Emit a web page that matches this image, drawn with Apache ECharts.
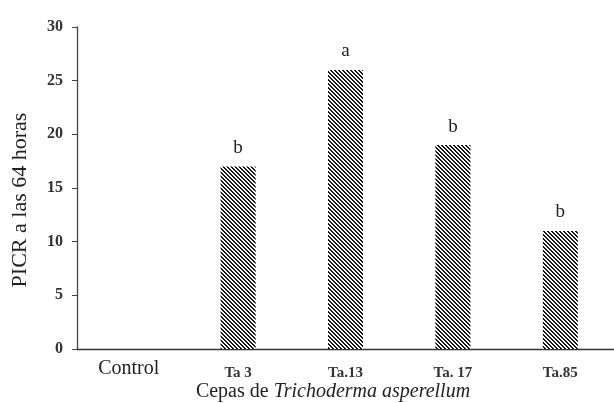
<!DOCTYPE html>
<html>
<head>
<meta charset="utf-8">
<script src="https://cdn.jsdelivr.net/npm/echarts@6/dist/echarts.min.js"></script>
<style>
html,body{margin:0;padding:0;background:#fff;}
#chart{width:614px;height:403px;}
</style>
</head>
<body>
<div id="chart"></div>
<script>
var categories = ['Control', 'Ta 3', 'Ta.13', 'Ta. 17', 'Ta.85'];
var values = [0, 17, 26, 19, 11];
var letters = ['', 'b', 'a', 'b', 'b'];
var yMin = 0, yMax = 30, yStep = 5;
var yTitle = 'PICR a las 64 horas';
var xTitlePlain = 'Cepas de ';
var xTitleItalic = 'Trichoderma asperellum';

function hatch() {
  var s = 4;
  var c = document.createElement('canvas');
  c.width = s; c.height = s;
  var ctx = c.getContext('2d');
  var img = ctx.createImageData(s, s);
  for (var y = 0; y < s; y++) {
    for (var x = 0; x < s; x++) {
      var k = ((x - y) % s + s) % s;
      var i = (y * s + x) * 4;
      var dark = (k === 0 || k === 1);
      var v = dark ? 20 : 255;
      img.data[i] = v; img.data[i+1] = v; img.data[i+2] = v; img.data[i+3] = 255;
    }
  }
  ctx.putImageData(img, 0, 0);
  return c;
}

var chart = echarts.init(document.getElementById('chart'), null, {renderer: 'canvas'});
var serif = '"Liberation Serif", "Times New Roman", serif';
chart.setOption({
  animation: false,
  backgroundColor: '#fff',
  grid: {left: 77, right: 0, top: 27, bottom: 54, outerBoundsMode: 'none', containLabel: false},
  xAxis: {
    type: 'category',
    data: categories,
    axisLine: {show: true, lineStyle: {color: '#333', width: 1.3}},
    axisTick: {show: false},
    axisLabel: {
      margin: 10,
      formatter: function (v) {
        return v === 'Control' ? '{c|' + v + '}' : '{t|' + v + '}';
      },
      rich: {
        c: {fontFamily: serif, fontSize: 20, color: '#222', padding: [0, 4, 0, 0]},
        t: {fontFamily: serif, fontSize: 15, fontWeight: 'bold', color: '#333', padding: [7, 0, 0, 0]}
      }
    },
    name: '{p|' + xTitlePlain + '}{i|' + xTitleItalic + '}',
    nameLocation: 'middle',
    nameGap: 33,
    nameMoveOverlap: false,
    nameTextStyle: {
      padding: [0, 25, 0, 0],
      lineHeight: 20,
      rich: {
        p: {fontFamily: serif, fontSize: 20, color: '#222', lineHeight: 20},
        i: {fontFamily: serif, fontSize: 20, fontStyle: 'italic', color: '#222', lineHeight: 20}
      }
    }
  },
  yAxis: {
    type: 'value',
    min: yMin, max: yMax, interval: yStep,
    axisLine: {show: true, lineStyle: {color: '#444', width: 1.3}},
    axisTick: {show: true, length: 5, lineStyle: {color: '#444'}},
    splitLine: {show: false},
    axisLabel: {margin: 14, fontFamily: serif, fontSize: 16, fontWeight: 'bold', color: '#333'},
    name: yTitle,
    nameLocation: 'middle',
    nameGap: 46,
    nameMoveOverlap: false,
    nameTextStyle: {fontFamily: serif, fontSize: 22, color: '#222', padding: [0, 0, 0, -24]}
  },
  series: [{
    type: 'bar',
    data: values,
    barWidth: 35,
    itemStyle: {color: {image: hatch(), repeat: 'repeat'}},
    label: {
      show: true,
      position: 'top',
      distance: 9,
      fontFamily: serif,
      fontSize: 19,
      color: '#222',
      formatter: function (p) { return letters[p.dataIndex]; }
    }
  }]
});
</script>
</body>
</html>
